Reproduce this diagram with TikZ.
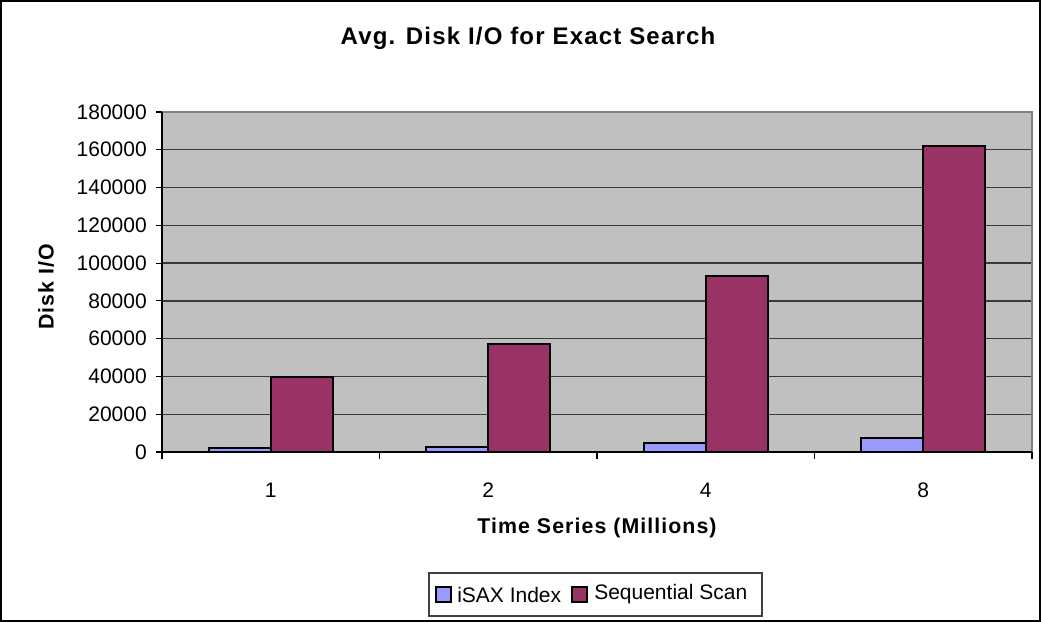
\documentclass[tikz,border=0pt]{standalone}
\usepackage{fontspec}
\setmainfont{Liberation Sans}
\newfontfamily\spacedfont[LetterSpace=5]{Liberation Sans}
\definecolor{plotgray}{HTML}{C0C0C0}
\definecolor{isaxblue}{HTML}{9999FF}
\definecolor{scanred}{HTML}{993366}
\definecolor{gridline}{HTML}{3A3A3A}
\definecolor{edgegray}{HTML}{808080}
\tikzset{
  gridrule/.style={draw=gridline, line width=1pt},
  axisrule/.style={draw=black, line width=0.9pt},
  barbox/.style={draw=black, line width=1.5pt},
  ticklabel/.style={inner sep=0pt, font=\fontsize{15.75}{18}\selectfont},
  axistitle/.style={inner sep=0pt, font=\spacedfont\bfseries\fontsize{16}{19}\selectfont},
  legendkey/.style={draw=black, line width=1.3pt, minimum size=11pt, inner sep=0pt},
  legendtext/.style={inner sep=0pt, anchor=west, font=\fontsize{15.75}{18}\selectfont}
}
\begin{document}
\begin{tikzpicture}[x=0.75pt,y=-0.75pt]
\useasboundingbox (0,0) rectangle (1041,622);
% outer frame
\draw[black, line width=0.9pt] (1,1) rectangle (1040,621);

% plot area
\fill[plotgray] (162,112) rectangle (1032,452);
\foreach \k in {1,...,8}
  \draw[gridrule] (162,{452-\k*37.78}) -- (1032,{452-\k*37.78});
\draw[draw=edgegray, line width=1.2pt] (162,112) -- (1032,112) -- (1032,452);

% title
\node[inner sep=0pt, font=\spacedfont\bfseries\fontsize{18}{21}\selectfont] (title) at (528,38) {Avg. Disk I/O for Exact Search};

% value axis (labels in units of 1)
\draw[axisrule] (162,112) -- (162,452);
\foreach \k/\val in {0/0,1/20000,2/40000,3/60000,4/80000,5/100000,6/120000,7/140000,8/160000,9/180000} {
  \draw[axisrule] (156,{452-\k*37.78}) -- (162,{452-\k*37.78});
  \node[ticklabel, anchor=east] (ylab\k) at (147,{452-\k*37.78}) {\val};
}
\node[axistitle, rotate=90] (ytitle) at (46,287) {Disk I/O};

% category axis
\draw[axisrule] (162,452) -- (1032,452);
\foreach \k in {0,...,4}
  \draw[axisrule] ({162+\k*217.5},452) -- ({162+\k*217.5},459);
\foreach \c/\n in {0/1,1/2,2/4,3/8}
  \node[ticklabel] (xlab\n) at ({162+217.5*(\c+0.5)},490) {\n};
\node[axistitle] (xtitle) at (597,528) {Time Series (Millions)};

% bars: index / scan disk I/O per category, in thousands
\foreach \c/\b/\r in {0/2.0/39.5, 1/2.8/57.3, 2/4.9/93.0, 3/7.2/162.0} {
  \pgfmathsetmacro{\xc}{162+217.5*(\c+0.5)}
  \filldraw[barbox, fill=isaxblue] ({\xc-62},452) rectangle (\xc,{452-\b*1.889});
  \filldraw[barbox, fill=scanred] (\xc,452) rectangle ({\xc+62},{452-\r*1.889});
}

% legend
\node[draw=black!75, line width=0.9pt, minimum width=249.75pt, minimum height=32.25pt, inner sep=0pt] (legend) at (595.5,594.5) {};
\node[legendkey, fill=isaxblue] (keyA) at (443.3,594.5) {};
\node[legendtext] (textA) at (457,594.5) {iSAX Index};
\node[legendkey, fill=scanred] (keyB) at (579.5,594.5) {};
\node[legendtext] (textB) at (594,594.5) {Sequential Scan};
\end{tikzpicture}
\end{document}
